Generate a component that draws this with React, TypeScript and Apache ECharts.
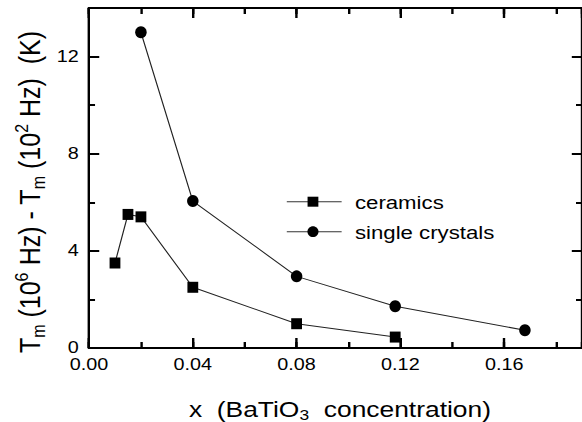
import React, { useEffect, useRef } from "react";
import * as echarts from "echarts";

// BaTiO3 concentration (x) and the frequency shift of Tm (K)
const ceramicsX = [0.01, 0.015, 0.02, 0.04, 0.08, 0.118];
const ceramicsY = [3.5, 5.5, 5.4, 2.5, 1.0, 0.45];
const crystalsX = [0.02, 0.04, 0.08, 0.118, 0.168];
const crystalsY = [13.0, 6.05, 2.95, 1.72, 0.73];

const seriesNames = ["ceramics", "single crystals"];

const X_MIN = 0;
const X_MAX = 0.19;
const X_MAJOR = 0.04;
const X_MINOR = 0.02;
const Y_MIN = 0;
const Y_MAX = 14;
const Y_MAJOR = 4;
const Y_MINOR = 2;

const FONT = "'Liberation Sans', Arial, Helvetica, sans-serif";
// the figure is drawn narrow and widened by this factor
const STRETCH = 1.2;
const W = 582 / STRETCH;
const H = 422;

const pairs = (xs: number[], ys: number[]) => xs.map((x, i) => [x, ys[i]]);

export default function App() {
  const ref = useRef<HTMLDivElement>(null);

  useEffect(() => {
    if (!ref.current) return;
    const chart = echarts.init(ref.current, null, { renderer: "svg" });

    const line = { lineStyle: { color: "#000", width: 2 } };
    const xAxisBase = (position: "top" | "bottom", interval: number, len: number, showLine: boolean, labels: boolean) => ({
      type: "value" as const,
      position,
      min: X_MIN,
      max: X_MAX,
      interval,
      axisLine: { show: showLine, onZero: false, ...line },
      axisTick: { show: true, inside: true, length: len, lineStyle: { color: "#000", width: 2 } },
      axisLabel: labels
        ? {
            show: true,
            showMaxLabel: false,
            formatter: (v: number) => v.toFixed(2),
            color: "#000",
            fontSize: 16.5,
            fontFamily: FONT,
            margin: 8,
          }
        : { show: false },
      splitLine: { show: false },
    });
    const yAxisBase = (position: "left" | "right", interval: number, len: number, showLine: boolean, labels: boolean) => ({
      type: "value" as const,
      position,
      min: Y_MIN,
      max: Y_MAX,
      interval,
      axisLine: { show: showLine, onZero: false, ...line },
      axisTick: { show: true, inside: true, length: len, lineStyle: { color: "#000", width: 2 } },
      axisLabel: labels
        ? {
            show: true,
            showMaxLabel: false,
            color: "#000",
            fontSize: 16.5,
            fontFamily: FONT,
            margin: 8.5,
          }
        : { show: false },
      splitLine: { show: false },
    });

    const legendRow = (name: string, y: number, marker: any) => ({
      type: "group",
      children: [
        { type: "line", shape: { x1: 239, y1: y, x2: 284.7, y2: y }, style: { stroke: "#333", lineWidth: 1 } },
        marker,
        {
          type: "text",
          x: 295.8,
          y: y + 1,
          style: { text: name, fontSize: 18.5, fontFamily: FONT, fill: "#000", verticalAlign: "middle", align: "left" },
        },
      ],
    });

    chart.setOption({
      animation: false,
      backgroundColor: "#fff",
      grid: { left: 74.2, top: 8, width: 412.5, height: 340 },
      xAxis: [
        xAxisBase("bottom", X_MAJOR, 10, true, true),
        xAxisBase("bottom", X_MINOR, 6, false, false),
        xAxisBase("top", X_MAJOR, 10, true, false),
        xAxisBase("top", X_MINOR, 6, false, false),
      ],
      yAxis: [
        yAxisBase("left", Y_MAJOR, 8.5, true, true),
        yAxisBase("left", Y_MINOR, 5, false, false),
        yAxisBase("right", Y_MAJOR, 8.5, true, false),
        yAxisBase("right", Y_MINOR, 5, false, false),
      ],
      series: [
        {
          name: seriesNames[0],
          type: "line",
          xAxisIndex: 0,
          yAxisIndex: 0,
          data: pairs(ceramicsX, ceramicsY),
          symbol: "rect",
          symbolSize: [9, 11],
          itemStyle: { color: "#000" },
          lineStyle: { color: "#222", width: 1 },
        },
        {
          name: seriesNames[1],
          type: "line",
          xAxisIndex: 0,
          yAxisIndex: 0,
          data: pairs(crystalsX, crystalsY),
          symbol: "circle",
          symbolSize: [9.6, 12],
          itemStyle: { color: "#000" },
          lineStyle: { color: "#222", width: 1 },
        },
      ],
      graphic: [
        legendRow(seriesNames[0], 201.7, {
          type: "rect",
          shape: { x: 260.8 - 4.5, y: 201.7 - 5, width: 9, height: 10 },
          style: { fill: "#000" },
        }),
        legendRow(seriesNames[1], 231.7, {
          type: "ellipse",
          shape: { cx: 260.8, cy: 231.7, rx: 4.6, ry: 5.4 },
          style: { fill: "#000" },
        }),
        {
          type: "text",
          x: 283.3,
          y: 409,
          style: {
            text: "{n|x  (BaTiO}{s|3}{n|  concentration)}",
            align: "center",
            verticalAlign: "middle",
            fill: "#000",
            rich: {
              n: { fontSize: 22, fontFamily: FONT, lineHeight: 27, verticalAlign: "middle" },
              s: { fontSize: 14.5, fontFamily: FONT, lineHeight: 27, verticalAlign: "bottom" },
            },
          },
        },
        {
          type: "text",
          x: 25,
          y: 192,
          rotation: Math.PI / 2,
          style: {
            text: "{n|T}{s|m}{n| (10}{p|6}{n| Hz) - T}{s|m}{n| (10}{p|2}{n| Hz)  (K)}",
            align: "center",
            verticalAlign: "middle",
            fill: "#000",
            rich: {
              n: { fontSize: 25, fontFamily: FONT, lineHeight: 30, verticalAlign: "middle" },
              s: { fontSize: 16, fontFamily: FONT, lineHeight: 30, verticalAlign: "bottom" },
              p: { fontSize: 16, fontFamily: FONT, lineHeight: 30, verticalAlign: "top" },
            },
          },
        },
      ],
    });

    return () => chart.dispose();
  }, []);

  return (
    <div
      style={{
        position: "absolute",
        left: 0,
        top: 0,
        width: 582,
        height: H,
        overflow: "hidden",
        background: "#fff",
      }}
    >
      <div
        ref={ref}
        style={{
          width: W,
          height: H,
          transform: `scaleX(${STRETCH})`,
          transformOrigin: "0 0",
        }}
      />
    </div>
  );
}
